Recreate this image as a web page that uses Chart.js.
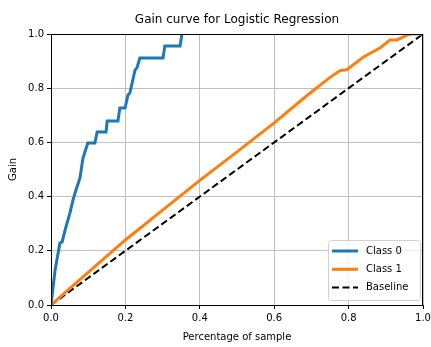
<!DOCTYPE html>
<html>
<head>
<meta charset="utf-8">
<script src="https://cdn.jsdelivr.net/npm/chart.js@4/dist/chart.umd.min.js"></script>
<style>
  html, body { margin: 0; padding: 0; background: #fff; }
  #wrap { width: 431px; height: 347px; }
</style>
</head>
<body>
<div id="wrap"><canvas id="gainChart"></canvas></div>
<script>
// gain curve values (x = share of sample, y = share of class captured)
var class0X = [0, 0.011, 0.024, 0.030, 0.038, 0.051, 0.059, 0.065, 0.078, 0.086, 0.099, 0.118, 0.124, 0.148, 0.151, 0.180, 0.185, 0.199, 0.207, 0.212, 0.226, 0.231, 0.239, 0.301, 0.306, 0.347, 0.352];
var class0Y = [0, 0.129, 0.229, 0.233, 0.277, 0.340, 0.387, 0.415, 0.470, 0.542, 0.598, 0.598, 0.638, 0.638, 0.679, 0.679, 0.727, 0.727, 0.775, 0.782, 0.867, 0.875, 0.911, 0.911, 0.956, 0.956, 1.0];

var class1X = [0, 0.05, 0.10, 0.20, 0.30, 0.40, 0.50, 0.60, 0.69, 0.75, 0.777, 0.795, 0.84, 0.884, 0.911, 0.93, 0.957, 0.97, 1.0];
var class1Y = [0, 0.06, 0.12, 0.24, 0.35, 0.46, 0.565, 0.672, 0.775, 0.84, 0.865, 0.868, 0.915, 0.948, 0.978, 0.978, 0.996, 1.0, 1.0];

var baseX = [0, 1];
var baseY = [0, 1];

var seriesNames = ['Class 0', 'Class 1', 'Baseline'];
var axisTicks = [0, 0.2, 0.4, 0.6, 0.8, 1.0];

function toPoints(xs, ys) {
	return xs.map(function (x, i) { return { x: x, y: ys[i] }; });
}

var FONT = 'DejaVu Sans';

// frame around the plot area, drawn over the lines
var framePlugin = {
	id: 'frame',
	afterDatasetsDraw: function (chart) {
		var a = chart.chartArea, ctx = chart.ctx;
		ctx.save();
		ctx.strokeStyle = '#000';
		ctx.lineWidth = 1;
		ctx.strokeRect(Math.round(a.left) + 0.5, Math.round(a.top) + 0.5, Math.round(a.right - a.left) - 1, Math.round(a.bottom - a.top));
		ctx.restore();
	}
};

// title centred over the plot area
var titlePlugin = {
	id: 'plotTitle',
	afterDraw: function (chart) {
		var a = chart.chartArea, ctx = chart.ctx;
		ctx.save();
		ctx.fillStyle = '#000';
		ctx.font = '12px "' + FONT + '"';
		ctx.textAlign = 'center';
		ctx.textBaseline = 'middle';
		ctx.fillText('Gain curve for Logistic Regression', (a.left + a.right) / 2, 20);
		ctx.restore();
	}
};

// boxed legend in the lower right corner
var boxLegendPlugin = {
	id: 'boxLegend',
	afterDraw: function (chart) {
		var a = chart.chartArea, ctx = chart.ctx;
		var sets = chart.data.datasets;
		var w = 92, h = 60, r = 3;
		var x0 = a.right - 3 - w, y0 = a.bottom - 5 - h;
		ctx.save();
		ctx.beginPath();
		ctx.roundRect(x0 + 0.5, y0 + 0.5, w, h, r);
		ctx.fillStyle = 'rgba(255,255,255,0.8)';
		ctx.fill();
		ctx.strokeStyle = '#d0d0d0';
		ctx.lineWidth = 1;
		ctx.stroke();
		ctx.font = '10px "' + FONT + '"';
		ctx.textBaseline = 'middle';
		ctx.textAlign = 'left';
		sets.forEach(function (ds, i) {
			var y = y0 + 11 + i * 18.3;
			ctx.beginPath();
			ctx.setLineDash(ds.borderDash || []);
			ctx.strokeStyle = ds.borderColor;
			ctx.lineWidth = ds.borderWidth;
			ctx.moveTo(x0 + 4, y);
			ctx.lineTo(x0 + 30, y);
			ctx.stroke();
			ctx.setLineDash([]);
			ctx.fillStyle = '#000';
			ctx.fillText(ds.label, x0 + 38, y);
		});
		ctx.restore();
	}
};

var gainChart = new Chart(document.getElementById('gainChart'), {
	type: 'line',
	data: {
		datasets: [{
			label: seriesNames[0],
			data: toPoints(class0X, class0Y),
			borderColor: '#1f77b4',
			borderWidth: 3,
			pointRadius: 0,
			tension: 0,
			clip: 0
		}, {
			label: seriesNames[1],
			data: toPoints(class1X, class1Y),
			borderColor: '#ff7f0e',
			borderWidth: 3,
			pointRadius: 0,
			tension: 0,
			clip: 0
		}, {
			label: seriesNames[2],
			data: toPoints(baseX, baseY),
			borderColor: '#000000',
			borderWidth: 2,
			borderDash: [7, 3.5],
			pointRadius: 0,
			tension: 0,
			clip: 0
		}]
	},
	options: {
		responsive: true,
		maintainAspectRatio: false,
		animation: false,
		events: [],
		layout: { padding: { top: 34, right: 8, bottom: 0, left: 0 } },
		plugins: {
			legend: { display: false },
			title: { display: false },
			tooltip: { enabled: false }
		},
		scales: {
			x: {
				type: 'linear',
				min: 0,
				max: 1,
				afterFit: function (s) { s.height = 42; s.paddingLeft = 0; s.paddingRight = 0; },
				afterBuildTicks: function (s) { s.ticks = axisTicks.map(function (v) { return { value: v }; }); },
				ticks: {
					color: '#000',
					font: { family: FONT, size: 10 },
					padding: 3,
					maxRotation: 0,
					autoSkip: false,
					callback: function (v) { return v.toFixed(1); }
				},
				grid: { color: '#b0b0b0', lineWidth: 0.8, tickColor: '#000', tickLength: 4, tickWidth: 1 },
				border: { display: true, color: '#000' },
				title: {
					display: true,
					text: 'Percentage of sample',
					color: '#000',
					font: { family: FONT, size: 10 },
					padding: { top: 0, bottom: 4 }
				}
			},
			y: {
				type: 'linear',
				min: 0,
				max: 1,
				afterFit: function (s) { s.width = 51; s.paddingTop = 0; s.paddingBottom = 0; },
				afterBuildTicks: function (s) { s.ticks = axisTicks.map(function (v) { return { value: v }; }); },
				ticks: {
					color: '#000',
					font: { family: FONT, size: 10 },
					padding: 3,
					autoSkip: false,
					callback: function (v) { return v.toFixed(1); }
				},
				grid: { color: '#b0b0b0', lineWidth: 0.8, tickColor: '#000', tickLength: 4, tickWidth: 1 },
				border: { display: true, color: '#000' },
				title: {
					display: true,
					text: 'Gain',
					color: '#000',
					font: { family: FONT, size: 10 },
					padding: { top: 7, bottom: 0 }
				}
			}
		}
	},
	plugins: [framePlugin, titlePlugin, boxLegendPlugin]
});
</script>
</body>
</html>
